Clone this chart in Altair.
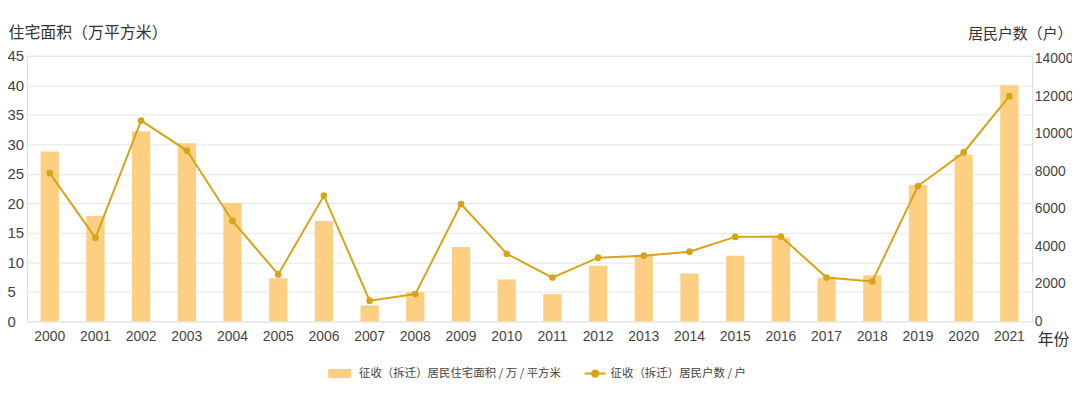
import altair as alt
import pandas as pd

years = [str(y) for y in range(2000, 2022)]
area = [28.8, 17.9, 32.2, 30.2, 20.1, 7.3, 17.0, 2.7, 5.0, 12.6, 7.1, 4.6,
        9.4, 11.3, 8.1, 11.1, 14.2, 7.4, 7.8, 23.1, 28.2, 40.0]
households = [7900, 4450, 10700, 9100, 5350, 2500, 6700, 1100, 1450, 6250, 3600, 2330,
              3390, 3500, 3710, 4500, 4520, 2330, 2120, 7210, 9000, 12000]

bar_name = "征收（拆迁）居民住宅面积 / 万 / 平方米"
line_name = "征收（拆迁）居民户数 / 户"
left_title = "住宅面积（万平方米）"
right_title = "居民户数（户）"
x_title = "年份"

left_ticks = [0, 5, 10, 15, 20, 25, 30, 35, 40, 45]
right_ticks = [0, 2000, 4000, 6000, 8000, 10000, 12000, 14000]

BAR_COLOR = "#FDCF82"
LINE_COLOR = "#D6A419"
CJK = "Noto Sans CJK SC"
NUM = "Liberation Sans"

df = pd.DataFrame({
    "year": years,
    "area": area,
    "households": households,
    "s1": [bar_name] * len(years),
    "s2": [line_name] * len(years),
})

x_enc = alt.X(
    "year:O",
    sort=years,
    scale=alt.Scale(paddingInner=0.6, paddingOuter=0.3),
    axis=alt.Axis(
        title=x_title, titleX=1016, titleY=18, titleAlign="left", titleBaseline="middle",
        titleFont=CJK, titleFontSize=16, titleFontWeight="normal", titleColor="#333333",
        labelAngle=0, labelFont=NUM, labelFontSize=14, labelColor="#444444",
        labelBaseline="top", labelPadding=8, ticks=False, domain=False, grid=False,
    ),
)

bars = alt.Chart(df).mark_bar(color=BAR_COLOR).encode(
    x=x_enc,
    y=alt.Y(
        "area:Q",
        scale=alt.Scale(domain=[0, 45], nice=False),
        axis=alt.Axis(
            title=left_title, titleAngle=0, titleX=-19, titleY=-23, titleAlign="left",
            titleBaseline="middle", titleFont=CJK, titleFontSize=16, titleFontWeight="normal",
            titleColor="#333333", values=left_ticks, labelAlign="left", labelPadding=20,
            labelFont=NUM, labelFontSize=15, labelColor="#444444", ticks=False, domain=False,
            grid=True, gridColor="#E6E6E6", gridWidth=1,
        ),
    ),
    color=alt.Color(
        "s1:N",
        scale=alt.Scale(domain=[bar_name], range=[BAR_COLOR]),
        legend=alt.Legend(
            title=None, orient="none", legendX=303, legendY=308,
            symbolType="M-1,-0.4H1V0.4H-1Z", symbolSize=529, symbolStrokeWidth=0,
            labelOffset=8, labelFont=CJK, labelFontSize=11.5, labelColor="#444444",
            labelLimit=0, padding=0,
        ),
    ),
)

y_right = alt.Y(
    "households:Q",
    scale=alt.Scale(domain=[0, 14150], nice=False),
    axis=alt.Axis(
        orient="right", title=right_title, titleAngle=0, titleX=40, titleY=-22,
        titleAlign="right", titleBaseline="middle", titleFont=CJK, titleFontSize=15,
        titleFontWeight="normal", titleColor="#333333", values=right_ticks, format="d",
        labelAlign="left", labelPadding=2, labelFont=NUM, labelFontSize=14,
        labelColor="#444444", ticks=False, domain=False, grid=False,
    ),
)

line_color = alt.Color(
    "s2:N",
    scale=alt.Scale(domain=[line_name], range=[LINE_COLOR]),
    legend=alt.Legend(
        title=None, orient="none", legendX=560, legendY=308,
        symbolType="M-1,0H1M0.3,0A0.3,0.3 0 1,1 -0.3,0A0.3,0.3 0 1,1 0.3,0Z",
        symbolSize=441, symbolStrokeWidth=2, symbolFillColor=LINE_COLOR,
        symbolStrokeColor=LINE_COLOR,
        labelOffset=4, labelFont=CJK, labelFontSize=11.5, labelColor="#444444",
        labelLimit=0, padding=0,
    ),
)

line = alt.Chart(df).mark_line(strokeWidth=2).encode(x=x_enc, y=y_right, color=line_color)
points = alt.Chart(df).mark_point(filled=True, size=45, opacity=1).encode(
    x=x_enc, y=y_right, color=line_color
)

chart = (
    alt.layer(bars, alt.layer(line, points))
    .resolve_scale(y="independent", color="independent")
    .properties(
        width=1011, height=267,
        autosize=alt.AutoSizeParams(type="none"),
        padding={"left": 19, "top": 47, "right": 40, "bottom": 69},
    )
    .configure_view(stroke=None)
    .configure(background="white")
)

chart.save("out.html", embed_options={"renderer": "svg", "actions": False})
